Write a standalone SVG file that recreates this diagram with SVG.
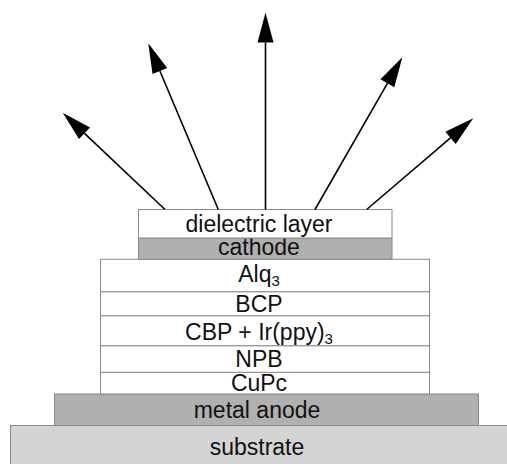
<svg xmlns="http://www.w3.org/2000/svg" width="507" height="464" viewBox="0 0 507 464">
  <style>
    .layer { stroke: #8a8a8a; stroke-width: 1; }
    .white { fill: #ffffff; }
    .metal { fill: #b0b0b0; }
    .sub { fill: #d4d4d4; }
    .lbl { font-family: "Liberation Sans", Arial, sans-serif; font-size: 23px; fill: #111; text-anchor: middle; }
    .sb { font-size: 15px; }
    .ray { stroke: #000; stroke-width: 1.6; fill: none; marker-end: url(#head); }
  </style>
  <defs>
    <marker id="head" markerUnits="userSpaceOnUse" markerWidth="30" markerHeight="16" refX="0" refY="8" orient="auto" overflow="visible">
      <path d="M0,0 L30,8 L0,16 z" fill="#000"/>
    </marker>
  </defs>
  <rect width="507" height="464" fill="#ffffff"/>

  <!-- device stack, bottom to top -->
  <g id="substrate">
    <rect class="layer sub" x="10.5" y="425.5" width="500" height="44"/>
    <text class="lbl" x="257" y="455">substrate</text>
  </g>
  <g id="metal-anode">
    <rect class="layer metal" x="54.5" y="394" width="424" height="31.5"/>
    <text class="lbl" x="257" y="418.3">metal anode</text>
  </g>
  <g id="cupc">
    <rect class="layer white" x="100.5" y="372.3" width="329" height="21.7"/>
    <text class="lbl" x="259" y="390.7">CuPc</text>
  </g>
  <g id="npb">
    <rect class="layer white" x="100.5" y="345.7" width="329" height="26.6"/>
    <text class="lbl" x="259" y="367.3">NPB</text>
  </g>
  <g id="cbp-irppy3">
    <rect class="layer white" x="100.5" y="315.7" width="329" height="30"/>
    <text class="lbl" x="259" y="339.5">CBP + Ir(ppy)<tspan class="sb" dy="4">3</tspan></text>
  </g>
  <g id="bcp">
    <rect class="layer white" x="100.5" y="291.7" width="329" height="24"/>
    <text class="lbl" x="259" y="312">BCP</text>
  </g>
  <g id="alq3">
    <rect class="layer white" x="100.5" y="259.3" width="329" height="32.4"/>
    <text class="lbl" x="259" y="281.7">Alq<tspan class="sb" dy="4">3</tspan></text>
  </g>
  <g id="cathode">
    <rect class="layer metal" x="138.5" y="238" width="253.5" height="21.3"/>
    <text class="lbl" x="259" y="255.3">cathode</text>
  </g>
  <g id="dielectric-layer">
    <rect class="layer white" x="138.5" y="209.5" width="253.5" height="28.5"/>
    <text class="lbl" x="259" y="232.3">dielectric layer</text>
  </g>

  <!-- emitted light rays -->
  <g id="connectors">
    <line class="ray" x1="165" y1="209.5" x2="84.5" y2="133.3"/>
    <line class="ray" x1="218.3" y1="209.5" x2="159.9" y2="71"/>
    <line class="ray" x1="265.5" y1="209.5" x2="265.5" y2="42.5"/>
    <line class="ray" x1="315" y1="209.5" x2="387.4" y2="83.3"/>
    <line class="ray" x1="366.7" y1="209.5" x2="450.5" y2="137.8"/>
  </g>
</svg>
